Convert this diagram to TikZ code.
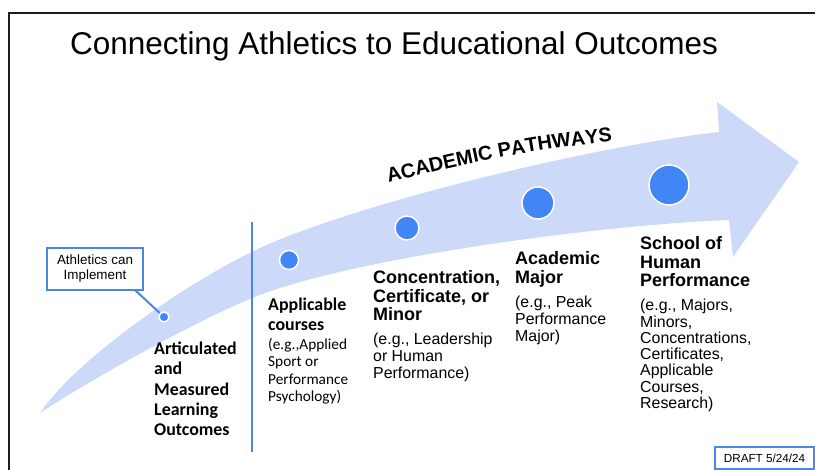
\documentclass[tikz,border=0pt]{standalone}
\usepackage{fontspec}
\setmainfont{Liberation Sans}
\newfontfamily\calibrifont{Carlito}
\usetikzlibrary{decorations.text}
\definecolor{pathfill}{RGB}{205,217,248}
\definecolor{dotblue}{RGB}{66,133,244}
\definecolor{lineblue}{RGB}{74,134,232}
\definecolor{framegray}{RGB}{30,30,30}

\begin{document}
\begin{tikzpicture}[x=1pt,y=-1pt,
  dot/.style={circle,fill=dotblue,draw=white,line width=1.5pt,inner sep=0pt},
  head/.style={anchor=north west,inner sep=0pt,align=left,
    font=\bfseries\fontsize{18}{18.4}\selectfont},
  detail/.style={anchor=north west,inner sep=0pt,align=left,
    font=\fontsize{15.9}{16.7}\selectfont},
  chead/.style={anchor=north west,inner sep=0pt,align=left,
    font=\calibrifont\bfseries\fontsize{17.9}{20.2}\selectfont},
  cdetail/.style={anchor=north west,inner sep=0pt,align=left,
    font=\calibrifont\fontsize{15.3}{17.4}\selectfont},
  tagbox/.style={draw=lineblue,line width=1.3pt,fill=white,align=center,inner sep=0pt}]

\useasboundingbox (0,0) rectangle (815,470);

% slide frame
\draw[framegray,line width=2pt] (9,470) -- (9,13) -- (815,13);

% title
\node[anchor=base west,inner sep=0pt,font=\fontsize{31.5}{36}\selectfont]
  (title) at (70,55) {Connecting Athletics to Educational Outcomes};

% curved pathway arrow
\fill[pathfill]
  (40,413) .. controls (75,360) and (190,280) .. (260,248)
           .. controls (360,202) and (600,145) .. (719,132)
  -- (717,102) -- (799,162) -- (733,257) -- (729,220)
           .. controls (600,225) and (360,257) .. (260,295)
           .. controls (200,318) and (90,380) .. (40,413) -- cycle;

% arc label above the arrow
\path[decorate,decoration={text along path,text align=center,
  text={|\bfseries\fontsize{20}{20}\selectfont|ACADEMIC PATHWAYS}}]
  (384,184) .. controls (460,164) and (540,148) .. (617,141);

% divider
\draw[lineblue,line width=2pt] (252,222) -- (252,452);

% milestones along the path
\node[dot,minimum size=10pt] (d1) at (164,317) {};
\node[dot,minimum size=19pt] (d2) at (289,260) {};
\node[dot,minimum size=24pt] (d3) at (407,228) {};
\node[dot,minimum size=32pt] (d4) at (538,203) {};
\node[dot,minimum size=40pt] (d5) at (669,185) {};

% callout and its leader
\node[tagbox,minimum width=96pt,minimum height=42pt,
  font=\fontsize{13.4}{15}\selectfont] (tag) at (95,269) {Athletics can\\Implement};
\draw[lineblue,line width=2pt] (tag.332) -- (d1);

% column texts
\node[chead] (h1) at (154,342) {Articulated\\and\\Measured\\Learning\\Outcomes};

\node[chead] (h2) at (268,298) {Applicable\\courses};
\node[cdetail] (t2) at (268,338) {(e.g.,Applied\\Sport or\\Performance\\Psychology)};

\node[head] (h3) at (373,270.5) {Concentration,\\Certificate, or\\Minor};
\node[detail] (t3) at (373,333) {(e.g., Leadership\\or Human\\Performance)};

\node[head] (h4) at (515,251.5) {Academic\\Major};
\node[detail] (t4) at (515,296) {(e.g., Peak\\Performance\\Major)};

\node[head] (h5) at (640,236.5) {School of\\Human\\Performance};
\node[detail,font=\fontsize{15.9}{16.3}\selectfont] (t5) at (640,299)
  {(e.g., Majors,\\Minors,\\Concentrations,\\Certificates,\\Applicable\\Courses,\\Research)};

% draft stamp
\node[tagbox,minimum width=99pt,minimum height=22pt,
  font=\fontsize{11.7}{13}\selectfont] (draft) at (764.5,458) {DRAFT 5/24/24};

\end{tikzpicture}
\end{document}
